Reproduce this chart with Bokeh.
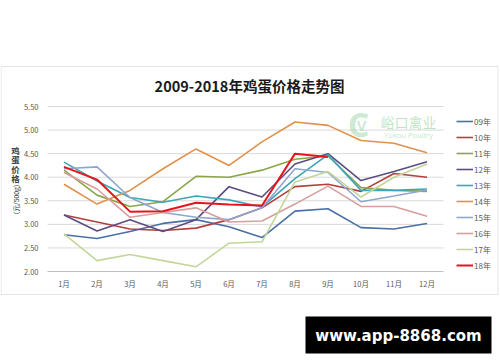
import math
from bokeh.plotting import figure
from bokeh.models import (Range1d, Legend, LegendItem, Label, BoxAnnotation)
from bokeh.core.properties import value
from bokeh.embed import file_html
from bokeh.resources import INLINE

months = ["1月", "2月", "3月", "4月", "5月", "6月", "7月", "8月", "9月", "10月", "11月", "12月"]
y_ticks = [2.0, 2.5, 3.0, 3.5, 4.0, 4.5, 5.0, 5.5]

s09 = [2.78, 2.70, 2.85, 3.02, 3.10, 2.95, 2.72, 3.28, 3.33, 2.93, 2.90, 3.02]
s10 = [3.20, 3.05, 2.90, 2.87, 2.92, 3.10, 3.35, 3.80, 3.85, 3.70, 4.08, 4.00]
s11 = [4.15, 3.62, 3.38, 3.48, 4.02, 4.00, 4.15, 4.38, 4.45, 3.78, 3.72, 3.70]
s12 = [3.20, 2.86, 3.10, 2.85, 3.10, 3.80, 3.58, 4.28, 4.50, 3.93, 4.12, 4.33]
s13 = [4.32, 3.92, 3.57, 3.47, 3.60, 3.52, 3.37, 3.97, 4.48, 3.72, 3.72, 3.75]
s14 = [3.85, 3.43, 3.72, 4.18, 4.60, 4.25, 4.75, 5.17, 5.10, 4.78, 4.72, 4.52]
s15 = [4.18, 4.22, 3.57, 3.25, 3.15, 3.10, 3.35, 4.18, 4.10, 3.48, 3.60, 3.73]
s16 = [4.10, 3.75, 3.15, 3.25, 3.35, 3.05, 3.07, 3.43, 3.81, 3.38, 3.38, 3.17]
s17 = [2.80, 2.23, 2.36, 2.23, 2.10, 2.60, 2.63, 3.90, 4.12, 3.58, 4.00, 4.28]
s18 = [4.22, 3.95, 3.27, 3.28, 3.46, 3.42, 3.40, 4.50, 4.43]

names = ["09年", "10年", "11年", "12年", "13年", "14年", "15年", "16年", "17年", "18年"]
series = [s09, s10, s11, s12, s13, s14, s15, s16, s17, s18]
colors = ["#4A6FA5", "#B0413E", "#8AA64A", "#5B4D80", "#3DA5B8",
          "#E0914A", "#8FA6D0", "#D69E9C", "#C2D69A", "#E8141C"]
widths = [1.6] * 9 + [2.0]

title_text = "2009-2018年鸡蛋价格走势图"
ylabel_upright = "鸡蛋价格"
ylabel_unit = "（元/500g）"

W, H = 500, 362
# plot area in page pixels
PL, PR, PT, PB = 47, 443, 106, 271
n = len(months)
xs = [i + 1 for i in range(n)]
x_lo, x_hi = xs[0] - 0.5, xs[-1] + 0.5
y_lo, y_hi = y_ticks[0], y_ticks[-1]
kx = (PR - PL) / (x_hi - x_lo)
ky = (PB - PT) / (y_hi - y_lo)

p = figure(width=W, height=H, output_backend="svg", toolbar_location=None,
           x_range=Range1d(x_lo - PL / kx, x_hi + (W - PR) / kx),
           y_range=Range1d(y_lo - (H - PB) / ky, y_hi + PT / ky),
           min_border=0, min_border_left=0, min_border_right=0,
           min_border_top=0, min_border_bottom=0,
           x_axis_location=None, y_axis_location=None, title_location=None)
p.background_fill_color = "white"
p.border_fill_color = "white"
p.outline_line_color = None
p.grid.visible = False

FONT = "Noto Sans CJK SC"

# horizontal gridlines
p.segment(x0=[x_lo] * (len(y_ticks) - 1), x1=[x_hi] * (len(y_ticks) - 1),
          y0=y_ticks[1:], y1=y_ticks[1:], line_color="#D9D9D9", line_width=1)
# category axis line
p.segment(x0=[x_lo], x1=[x_hi], y0=[y_lo], y1=[y_lo], line_color="#BFBFBF", line_width=1)

# tick labels
p.text(x=[x_lo] * len(y_ticks), y=y_ticks, text=["%.2f" % t for t in y_ticks],
       x_offset=-9, text_align="right", text_baseline="middle",
       text_font=value(FONT), text_font_size="7.5px", text_color="#595959")
p.text(x=xs, y=[y_lo] * n, text=months, y_offset=12,
       text_align="center", text_baseline="middle",
       text_font=value(FONT), text_font_size="7.5px", text_color="#595959")

items = []
for name, vals, c, w in zip(names, series, colors, widths):
    r = p.line(xs[:len(vals)], vals, line_color=c, line_width=w)
    items.append(LegendItem(label=name, renderers=[r]))

legend = Legend(items=items, location=(456, 89), border_line_color=None,
                background_fill_alpha=0, padding=0, margin=0, spacing=0,
                glyph_width=17, glyph_height=16, label_height=16, label_standoff=1,
                label_text_font_size="8px", label_text_color="#595959",
                label_text_font=FONT)
p.add_layout(legend)


def lab(px, py, text, **kw):
    opts = dict(x=px, y=H - py, x_units="screen", y_units="screen", text=text,
                text_align="center", text_baseline="middle")
    opts.update(kw)
    p.add_layout(Label(**opts))


def box(x0, x1, y0, y1, **kw):
    p.add_layout(BoxAnnotation(left=x0, right=x1, top=H - y0, bottom=H - y1,
                               left_units="screen", right_units="screen",
                               top_units="screen", bottom_units="screen", **kw))


# outer chart border
box(0.5, 497.5, 66, 294, fill_alpha=0, line_color="#A6A6A6", line_width=1)

# title
lab(249, 84.5, title_text, text_font=FONT, text_font_size="14.5px",
    text_font_style="bold", text_color="#1A1A1A")

# y-axis title: stacked characters + rotated unit
for ch, yy in zip(ylabel_upright, [149, 158.5, 168, 177.5]):
    lab(15, yy, ch, text_font=FONT, text_font_size="8.5px",
        text_font_style="bold", text_color="#404040")
lab(15, 199, ylabel_unit, angle=math.pi / 2, text_font=FONT,
    text_font_size="6.8px", text_color="#404040")

# faint logo watermark
lab(358, 123, "C", text_font="Open Sans", text_font_size="34px", text_font_style="bold",
    text_color="#8FD19E", text_alpha=0.45)
lab(361, 124, "V", text_font="Open Sans", text_font_size="15px", text_font_style="bold",
    text_color="#8FD19E", text_alpha=0.45)
lab(408, 121, "峪口禽业", text_font=FONT, text_font_size="14px",
    text_color="#7CCB8A", text_alpha=0.5)
lab(408, 134.5, "Yukou Poultry", text_font="Open Sans", text_font_size="7.5px",
    text_color="#7CCB8A", text_alpha=0.5)

# website badge
box(305, 491, 316, 353, fill_color="black", fill_alpha=1, line_color=None)
lab(398, 335, "www.app-8868.com", text_font="DejaVu Sans", text_font_size="15px",
    text_font_style="bold", text_color="white")

open("out.html", "w").write(file_html(p, INLINE))
